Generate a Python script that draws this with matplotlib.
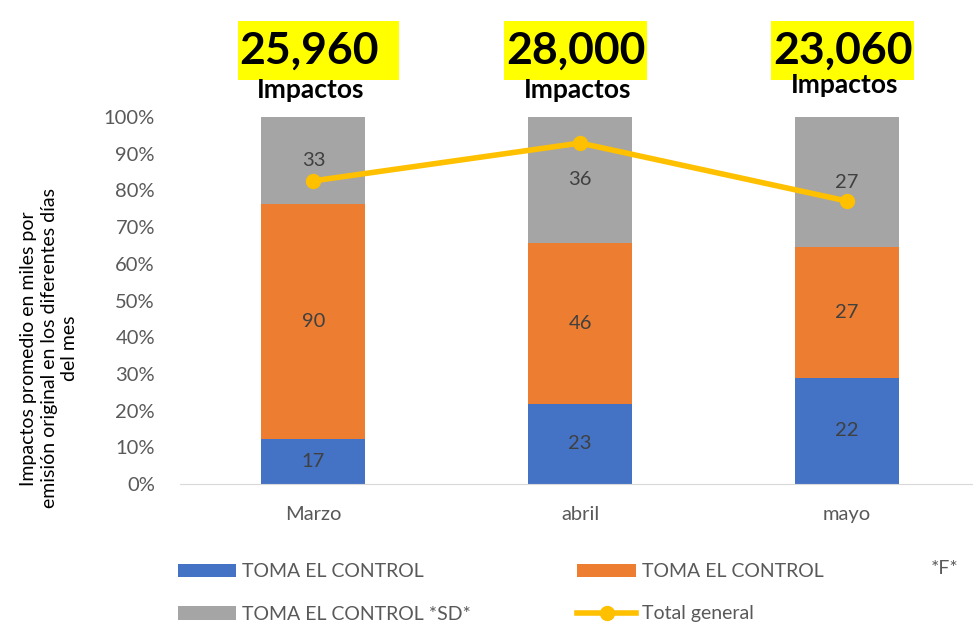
import numpy as np
import matplotlib.pyplot as plt
from matplotlib.patches import Rectangle

plt.rcParams['font.family'] = ['Lato', 'DejaVu Sans']

months = ['Marzo', 'abril', 'mayo']
toma = [17, 23, 22]
toma_f = [90, 46, 27]
toma_sd = [33, 36, 27]
total_general = [82.6, 92.9, 77.1]
header_values = ['25,960', '28,000', '23,060']

series = [toma, toma_f, toma_sd]
names = ['TOMA EL CONTROL', 'TOMA EL CONTROL', 'TOMA EL CONTROL *SD*']
colors = ['#4472C4', '#ED7D31', '#A5A5A5']

totals = np.sum(series, axis=0)
x = np.arange(len(months))

fig = plt.figure(figsize=(9.73, 6.25), dpi=100)
ax = fig.add_axes([180 / 973, 141 / 625, 795 / 973, 367 / 625])

bottom = np.zeros(len(months))
handles = []
for vals, name, c in zip(series, names, colors):
    pct = np.array(vals) / totals * 100
    b = ax.bar(x, pct, 0.39, bottom=bottom, color=c, label=name, zorder=2)
    handles.append(b)
    for xi, bi, pi, v in zip(x, bottom, pct, vals):
        ax.text(xi, bi + pi / 2, str(v), ha='center', va='center',
                fontsize=14.5, color='#404040', zorder=3)
    bottom += pct

line, = ax.plot(x, total_general, color='#FFC000', lw=4, marker='o',
                ms=10, label='Total general', zorder=4)

ax.set_xlim(-0.5, 2.48)
ax.set_ylim(0, 100)
ax.set_yticks(np.arange(0, 101, 10))
ax.set_yticklabels([f'{v}%' for v in range(0, 101, 10)])
ax.set_xticks(x)
ax.set_xticklabels(months)
ax.tick_params(axis='both', length=0, labelsize=14.5, colors='#595959')
ax.tick_params(axis='x', pad=16)
ax.tick_params(axis='y', pad=18)
for s in ['top', 'right', 'left']:
    ax.spines[s].set_visible(False)
ax.spines['bottom'].set_color('#D9D9D9')

ax.set_ylabel('Impactos promedio en miles por\nemisión original en los diferentes días\ndel mes',
              fontsize=14, color='black', linespacing=1.25)
ax.yaxis.set_label_coords(-0.128, 0.37)

# header labels above bars (yellow boxes sized from the text)
box_extra = [19, 0, 0]
imp_y = [107.4, 107.4, 108.8]
head_texts = []
for xi, hv, iy in zip(x, header_values, imp_y):
    t = ax.text(xi - 0.015, 118, hv, ha='center', va='center', fontsize=32,
                fontweight='bold', color='black', clip_on=False, zorder=6)
    head_texts.append(t)
    ax.text(xi - 0.01, iy, 'Impactos', ha='center', va='center',
            fontsize=19, fontweight='bold', color='black', clip_on=False,
            zorder=7)

fig.canvas.draw()
inv = fig.transFigure.inverted()
for t, extra in zip(head_texts, box_extra):
    bb = t.get_window_extent()
    (x0, y0), (x1, y1) = inv.transform([(bb.x0 - 2, 625 - 80),
                                        (bb.x1 + extra + 1, 625 - 21)])
    ax.add_patch(Rectangle((x0, y0), x1 - x0, y1 - y0,
                           transform=fig.transFigure, clip_on=False,
                           facecolor='#FFFF00', edgecolor='none', zorder=5))

order = [0, 2, 1]
leg = fig.legend(handles=[handles[i] for i in order] + [line],
                 labels=[names[i] for i in order] + ['Total general'],
                 ncol=2, loc='lower left', bbox_to_anchor=(160 / 973, -0.024),
                 frameon=False, fontsize=14, columnspacing=5.5,
                 handlelength=3.0, handletextpad=0.3, labelspacing=1.3)
for t in leg.get_texts():
    t.set_color('#595959')
fig.text(945 / 973, 1 - 568 / 625, '*F*', ha='center', va='center',
         fontsize=14, color='#595959')

fig.savefig('out.png', dpi=100)
